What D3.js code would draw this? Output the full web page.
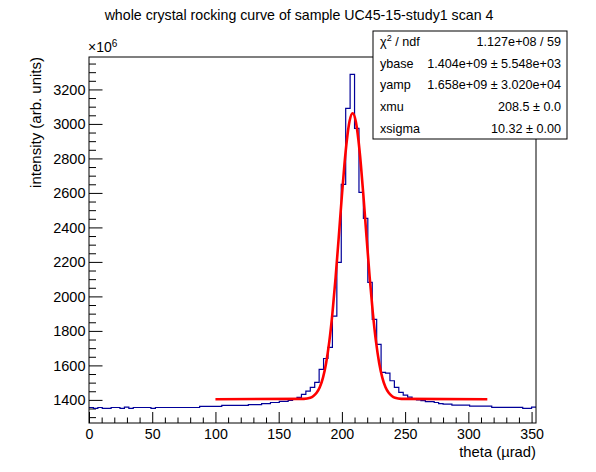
<!DOCTYPE html>
<html>
<head>
<meta charset="utf-8">
<script src="https://cdn.jsdelivr.net/npm/d3@7"></script>
<style>
  body { margin: 0; background: #fff; }
  text { font-family: "Liberation Sans", Arial, Helvetica, sans-serif; fill: #000; }
</style>
</head>
<body>
<div id="chart"></div>
<script>
// histogram : 101 bins of 3.5 urad starting at 0, contents in units of 1e6
var binWidth = 3.5;
var counts = [
  1356, 1351, 1356, 1351, 1351, 1356, 1356, 1351, 1358, 1351,
  1356, 1356, 1356, 1356, 1351, 1356, 1356, 1356, 1356, 1356,
  1356, 1356, 1356, 1356, 1356, 1362, 1362, 1362, 1362, 1362,
  1368, 1368, 1368, 1368, 1368, 1368, 1373, 1373, 1373, 1378,
  1378, 1385, 1385, 1391, 1391, 1397, 1407, 1414, 1432, 1451,
  1472, 1501, 1577, 1640, 1704, 1886, 2197, 2649, 3090, 3287,
  2974, 2603, 2452, 2081, 1867, 1722, 1559, 1555, 1511, 1472,
  1443, 1428, 1416, 1408, 1400, 1396, 1390, 1390, 1385, 1378,
  1376, 1376, 1370, 1370, 1370, 1370, 1364, 1364, 1364, 1364,
  1364, 1357, 1357, 1357, 1357, 1357, 1357, 1357, 1351, 1351,
  1358
];

// fitted curve (red)
var fitX = [100, 170, 175, 177.5, 180, 182.5, 185, 187.5, 190, 192.5, 195, 197.5, 200, 202, 204, 206,
  208.5, 211, 213, 215, 217, 219.5, 222, 224.5, 227, 229.5, 232, 234.5, 237, 239.5, 242, 247, 315];
var fitY = [1404, 1406, 1412, 1422, 1441, 1473, 1528, 1613, 1736, 1902, 2108, 2343, 2585, 2764, 2911, 3014,
  3062, 3014, 2911, 2764, 2585, 2343, 2108, 1902, 1736, 1613, 1528, 1473, 1441, 1422, 1412, 1406, 1404];

var xTicks = [0, 50, 100, 150, 200, 250, 300, 350];
var yTicks = [1400, 1600, 1800, 2000, 2200, 2400, 2600, 2800, 3000, 3200];

var statsNames = ["ndf", "ybase", "yamp", "xmu", "xsigma"];
var statsValues = ["1.127e+08 / 59", "1.404e+09 \u00b1 5.548e+03", "1.658e+09 \u00b1 3.020e+04",
  "208.5 \u00b1 0.0", "10.32 \u00b1 0.00"];

var titleText = "whole crystal rocking curve of sample UC45-15-study1 scan 4";

const W = 596, H = 472;
const margin = {top: 57, right: 60, bottom: 49, left: 89},
  width = W - margin.left - margin.right,
  height = H - margin.top - margin.bottom;

const svg = d3.select("#chart").append("svg")
  .attr("width", W).attr("height", H);

const x = d3.scaleLinear().domain([0, counts.length * binWidth]).range([0, width]);
const y = d3.scaleLinear().domain([1266, 3388]).range([height, 0]);

const g = svg.append("g").attr("transform", `translate(${margin.left},${margin.top})`);

// minor ticks
var xMinor = d3.range(0, 354, 10).filter(v => v % 50 != 0);
var yMinor = d3.range(1300, 3388, 50).filter(v => v % 200 != 0);

g.append("g").attr("transform", `translate(0,${height})`)
  .call(d3.axisBottom(x).tickValues(xMinor).tickSize(-5.5).tickFormat(""))
  .call(a => a.select(".domain").remove());
g.append("g").attr("transform", `translate(0,${height})`)
  .call(d3.axisBottom(x).tickValues(xTicks).tickSize(-11).tickPadding(5.5).tickFormat(d3.format("d")))
  .call(a => a.select(".domain").remove())
  .call(a => a.selectAll("text").style("font-size", "14.2px"));

g.append("g")
  .call(d3.axisLeft(y).tickValues(yMinor).tickSize(-7).tickFormat(""))
  .call(a => a.select(".domain").remove());
g.append("g")
  .call(d3.axisLeft(y).tickValues(yTicks).tickSize(-13.5).tickPadding(3.5).tickFormat(d3.format("d")))
  .call(a => a.select(".domain").remove())
  .call(a => a.selectAll("text").style("font-size", "14.5px"));

g.selectAll(".tick line").attr("stroke", "#000");

// histogram
var histPts = counts.map((c, i) => [i * binWidth, c]);
histPts.push([counts.length * binWidth, counts[counts.length - 1]]);
g.append("path")
  .datum(histPts)
  .attr("fill", "none")
  .attr("stroke", "#000099")
  .attr("stroke-width", 1.2)
  .attr("d", d3.line().x(d => x(d[0])).y(d => y(d[1])).curve(d3.curveStepAfter));

// fit
g.append("path")
  .datum(fitX.map((v, i) => [v, fitY[i]]))
  .attr("fill", "none")
  .attr("stroke", "#ff0000")
  .attr("stroke-width", 2.6)
  .attr("stroke-linejoin", "round")
  .attr("d", d3.line().x(d => x(d[0])).y(d => y(d[1])).curve(d3.curveMonotoneX));

// frame
g.append("rect")
  .attr("width", width).attr("height", height)
  .attr("fill", "none").attr("stroke", "#000").attr("stroke-width", 1);

// x10^6
var exp = svg.append("text").attr("x", margin.left - 1).attr("y", 52).style("font-size", "14px");
exp.append("tspan").text("\u00d710");
exp.append("tspan").attr("dy", -5.5).style("font-size", "10px").text("6");

// axis titles
svg.append("text")
  .attr("x", margin.left + width).attr("y", 456.5)
  .attr("text-anchor", "end").style("font-size", "14.8px")
  .text("theta (\u00b5rad)");
svg.append("text")
  .attr("transform", `translate(41,${margin.top}) rotate(-90)`)
  .attr("text-anchor", "end").style("font-size", "15px")
  .text("intensity (arb. units)");

// title
svg.append("text")
  .attr("x", 299).attr("y", 20)
  .attr("text-anchor", "middle").style("font-size", "14.2px")
  .text(titleText);

// stats box
const box = svg.append("g").attr("transform", "translate(373,31)");
const boxW = 194, boxH = 108;
box.append("rect").attr("width", boxW).attr("height", boxH)
  .attr("fill", "#fff").attr("stroke", "#000").attr("stroke-width", 1);
const rowH = boxH / statsNames.length;
statsNames.forEach((name, i) => {
  var t = box.append("text").attr("x", 7).attr("y", rowH * i + rowH / 2 + 4.4).style("font-size", "12.6px");
  if (i == 0) {
    t.append("tspan").text("\u03c7");
    t.append("tspan").attr("dy", -5).style("font-size", "9px").text("2");
    t.append("tspan").attr("dy", 5).text(" / " + name);
  } else {
    t.text(name);
  }
  box.append("text").attr("x", boxW - 6).attr("y", rowH * i + rowH / 2 + 4.4)
    .attr("text-anchor", "end").style("font-size", "12.6px")
    .text(statsValues[i]);
});
</script>
</body>
</html>
